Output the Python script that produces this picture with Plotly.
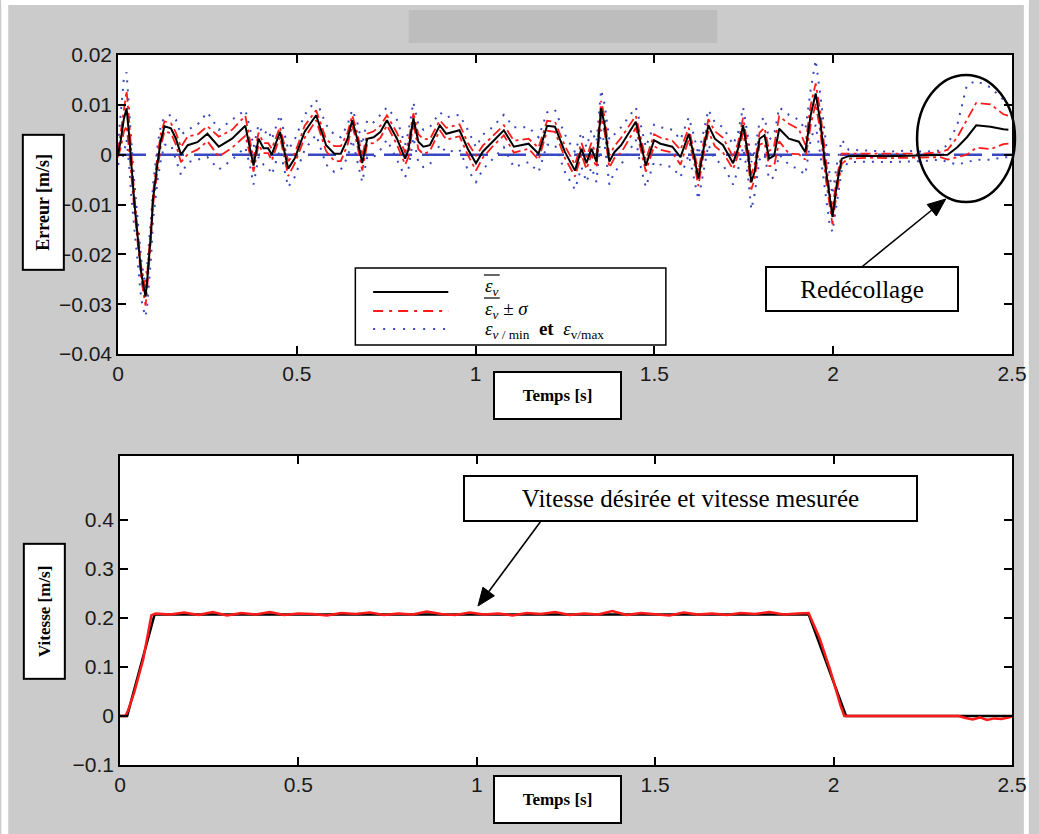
import plotly.graph_objects as go

# ---------------- data ----------------
err_t = [
    0.000, 0.008, 0.016, 0.024, 0.031, 0.038, 0.045, 0.052, 0.058, 0.065,
    0.071, 0.077, 0.082, 0.087, 0.093, 0.098, 0.104, 0.111, 0.120, 0.130,
    0.148, 0.162, 0.176, 0.195, 0.222, 0.250, 0.282, 0.319, 0.356, 0.370,
    0.379, 0.393, 0.407, 0.420, 0.430, 0.453, 0.476, 0.494, 0.522, 0.554,
    0.582, 0.605, 0.623, 0.642, 0.655, 0.669, 0.683, 0.697, 0.715, 0.734,
    0.752, 0.780, 0.803, 0.812, 0.826, 0.840, 0.854, 0.872, 0.900, 0.918,
    0.955, 0.978, 1.001, 1.020, 1.047, 1.079, 1.107, 1.148, 1.176, 1.200,
    1.222, 1.250, 1.278, 1.296, 1.310, 1.324, 1.338, 1.351, 1.361, 1.374,
    1.388, 1.407, 1.448, 1.462, 1.476, 1.499, 1.517, 1.550, 1.573, 1.596,
    1.610, 1.623, 1.637, 1.651, 1.669, 1.692, 1.720, 1.734, 1.748, 1.762,
    1.771, 1.780, 1.794, 1.808, 1.821, 1.835, 1.849, 1.876, 1.904, 1.922,
    1.937, 1.951, 1.964, 1.978, 1.990, 1.998, 2.010, 2.024, 2.043, 2.100,
    2.150, 2.200, 2.250, 2.300, 2.320, 2.347, 2.374, 2.400, 2.440, 2.476,
    2.490,
]
err_mean = [
    0.0000, 0.0030, 0.0070, 0.0093, 0.0040, -0.0035, -0.0090, -0.0143, -0.0190, -0.0237,
    -0.0262, -0.0285, -0.0250, -0.0210, -0.0150, -0.0089, -0.0050, -0.0014, 0.0030, 0.0057,
    0.0053, 0.0032, 0.0000, 0.0019, 0.0025, 0.0042, 0.0016, 0.0032, 0.0058, 0.0013,
    -0.0022, 0.0032, 0.0013, 0.0013, 0.0000, 0.0046, -0.0028, -0.0008, 0.0046, 0.0079,
    0.0019, 0.0002, 0.0002, 0.0032, 0.0069, 0.0032, -0.0017, 0.0032, 0.0035, 0.0046,
    0.0069, 0.0032, -0.0008, 0.0010, 0.0073, 0.0026, 0.0016, 0.0019, 0.0059, 0.0042,
    0.0049, 0.0012, -0.0017, 0.0006, 0.0026, 0.0049, 0.0016, 0.0022, 0.0002, 0.0058,
    0.0056, 0.0005, -0.0032, 0.0012, -0.0017, 0.0012, -0.0014, 0.0093, 0.0059, -0.0014,
    0.0005, 0.0019, 0.0066, 0.0019, -0.0022, 0.0029, 0.0022, 0.0016, -0.0005, 0.0042,
    0.0000, -0.0048, 0.0010, 0.0059, 0.0032, 0.0019, -0.0017, 0.0012, 0.0059, 0.0000,
    -0.0055, -0.0035, 0.0032, 0.0039, -0.0008, -0.0002, 0.0052, 0.0032, 0.0026, 0.0005,
    0.0079, 0.0123, 0.0066, -0.0022, -0.0090, -0.0125, -0.0060, -0.0008, -0.0003, -0.0002,
    -0.0003, -0.0002, -0.0002, 0.0000, 0.0000, 0.0015, 0.0035, 0.0059, 0.0056, 0.0051,
    0.0050,
]
err_sigma = [
    0.0005, 0.0015, 0.0025, 0.0035, 0.0030, 0.0020, 0.0015, 0.0012, 0.0012, 0.0012,
    0.0015, 0.0018, 0.0015, 0.0012, 0.0010, 0.0012, 0.0015, 0.0015, 0.0012, 0.0010,
    0.0010, 0.0012, 0.0015, 0.0018, 0.0015, 0.0015, 0.0020, 0.0018, 0.0020, 0.0015,
    0.0012, 0.0012, 0.0010, 0.0010, 0.0012, 0.0010, 0.0015, 0.0010, 0.0012, 0.0010,
    0.0012, 0.0015, 0.0015, 0.0012, 0.0010, 0.0012, 0.0015, 0.0010, 0.0012, 0.0012,
    0.0010, 0.0012, 0.0012, 0.0015, 0.0010, 0.0015, 0.0015, 0.0012, 0.0010, 0.0012,
    0.0012, 0.0012, 0.0015, 0.0012, 0.0010, 0.0010, 0.0012, 0.0010, 0.0012, 0.0010,
    0.0010, 0.0012, 0.0012, 0.0012, 0.0012, 0.0012, 0.0012, 0.0015, 0.0015, 0.0012,
    0.0012, 0.0015, 0.0012, 0.0012, 0.0012, 0.0012, 0.0012, 0.0012, 0.0015, 0.0012,
    0.0012, 0.0015, 0.0012, 0.0012, 0.0015, 0.0015, 0.0012, 0.0012, 0.0015, 0.0015,
    0.0015, 0.0015, 0.0012, 0.0015, 0.0015, 0.0020, 0.0025, 0.0030, 0.0025, 0.0015,
    0.0020, 0.0020, 0.0020, 0.0020, 0.0015, 0.0015, 0.0015, 0.0010, 0.0005, 0.0004,
    0.0004, 0.0004, 0.0004, 0.0005, 0.0010, 0.0020, 0.0035, 0.0045, 0.0045, 0.0030,
    0.0028,
]
err_max = [
    0.0020, 0.0080, 0.0150, 0.0165, 0.0100, 0.0020, -0.0050, -0.0110, -0.0160, -0.0210,
    -0.0240, -0.0260, -0.0220, -0.0180, -0.0120, -0.0060, -0.0020, 0.0020, 0.0060, 0.0075,
    0.0080, 0.0070, 0.0040, 0.0050, 0.0060, 0.0085, 0.0050, 0.0070, 0.0090, 0.0050,
    0.0015, 0.0060, 0.0040, 0.0050, 0.0030, 0.0080, 0.0010, 0.0030, 0.0080, 0.0110,
    0.0060, 0.0040, 0.0035, 0.0060, 0.0090, 0.0065, 0.0020, 0.0070, 0.0065, 0.0080,
    0.0095, 0.0070, 0.0020, 0.0045, 0.0105, 0.0060, 0.0050, 0.0055, 0.0085, 0.0075,
    0.0080, 0.0050, 0.0015, 0.0040, 0.0055, 0.0080, 0.0055, 0.0055, 0.0035, 0.0085,
    0.0090, 0.0040, 0.0005, 0.0045, 0.0015, 0.0050, 0.0025, 0.0130, 0.0100, 0.0030,
    0.0040, 0.0055, 0.0095, 0.0060, 0.0015, 0.0060, 0.0055, 0.0050, 0.0030, 0.0075,
    0.0040, 0.0000, 0.0045, 0.0090, 0.0065, 0.0055, 0.0020, 0.0045, 0.0095, 0.0035,
    -0.0015, 0.0005, 0.0065, 0.0075, 0.0030, 0.0040, 0.0095, 0.0080, 0.0070, 0.0050,
    0.0130, 0.0190, 0.0120, 0.0030, -0.0040, -0.0080, -0.0020, 0.0030, 0.0010, 0.0008,
    0.0006, 0.0008, 0.0006, 0.0008, 0.0020, 0.0060, 0.0140, 0.0148, 0.0135, 0.0110,
    0.0100,
]
err_min = [
    -0.0020, -0.0010, 0.0000, 0.0030, -0.0020, -0.0090, -0.0140, -0.0190, -0.0240, -0.0290,
    -0.0310, -0.0325, -0.0300, -0.0260, -0.0200, -0.0130, -0.0090, -0.0050, -0.0010, 0.0020,
    0.0020, -0.0010, -0.0040, -0.0015, -0.0010, -0.0005, -0.0030, -0.0010, 0.0015, -0.0025,
    -0.0060, -0.0005, -0.0020, -0.0025, -0.0040, 0.0010, -0.0065, -0.0045, 0.0010, 0.0040,
    -0.0020, -0.0035, -0.0030, -0.0005, 0.0030, -0.0010, -0.0055, -0.0005, -0.0005, 0.0010,
    0.0030, -0.0010, -0.0045, -0.0030, 0.0035, -0.0015, -0.0025, -0.0020, 0.0020, 0.0005,
    0.0010, -0.0030, -0.0055, -0.0030, -0.0010, 0.0015, -0.0025, -0.0015, -0.0035, 0.0020,
    0.0020, -0.0035, -0.0070, -0.0025, -0.0055, -0.0025, -0.0055, 0.0050, 0.0020, -0.0060,
    -0.0035, -0.0020, 0.0030, -0.0025, -0.0065, -0.0015, -0.0020, -0.0025, -0.0045, 0.0000,
    -0.0045, -0.0090, -0.0035, 0.0020, -0.0010, -0.0020, -0.0060, -0.0030, 0.0015, -0.0045,
    -0.0110, -0.0080, -0.0010, 0.0000, -0.0050, -0.0045, 0.0000, -0.0020, -0.0030, -0.0040,
    0.0030, 0.0060, 0.0000, -0.0080, -0.0140, -0.0155, -0.0100, -0.0030, -0.0015, -0.0014,
    -0.0015, -0.0014, -0.0013, -0.0010, -0.0015, -0.0020, -0.0015, -0.0010, -0.0010, -0.0005,
    -0.0005,
]
zero_t = [0.0, 2.5]
zero_v = [0.0, 0.0]

vel_des_t = [0.0, 0.02, 0.097, 1.93, 2.035, 2.5]
vel_des = [0.0, 0.0, 0.207, 0.207, 0.0, 0.0]

vel_mes_t = [
    0.000, 0.015, 0.022, 0.040, 0.065, 0.080, 0.088,
    0.10, 0.14, 0.18, 0.22, 0.26, 0.30, 0.34, 0.38, 0.42, 0.46,
    0.50, 0.54, 0.58, 0.62, 0.66, 0.70, 0.74, 0.78, 0.82, 0.86,
    0.90, 0.94, 0.98, 1.02, 1.06, 1.10, 1.14, 1.18, 1.22, 1.26,
    1.30, 1.34, 1.38, 1.42, 1.46, 1.50, 1.54, 1.58, 1.62, 1.66,
    1.70, 1.74, 1.78, 1.82, 1.86, 1.90,
    1.93, 1.96, 1.99, 2.02, 2.03,
    2.10, 2.20, 2.30, 2.35,
    2.37, 2.39, 2.41, 2.43, 2.45, 2.47, 2.49, 2.50,
]
vel_mes = [
    0.000, 0.000, 0.010, 0.048, 0.115, 0.170, 0.205,
    0.209, 0.207, 0.211, 0.206, 0.212, 0.205, 0.210, 0.207, 0.212, 0.206,
    0.209, 0.208, 0.205, 0.210, 0.208, 0.211, 0.206, 0.209, 0.207, 0.213,
    0.208, 0.206, 0.211, 0.207, 0.209, 0.205, 0.210, 0.208, 0.212, 0.206,
    0.209, 0.207, 0.214, 0.206, 0.210, 0.208, 0.205, 0.211, 0.207, 0.209,
    0.206, 0.210, 0.208, 0.212, 0.207, 0.209,
    0.210, 0.160, 0.095, 0.020, 0.000,
    0.000, 0.000, 0.000, 0.000,
    -0.004, -0.007, -0.003, -0.008, -0.005, -0.006, -0.003, -0.001,
]

x_ticks = [0, 0.5, 1, 1.5, 2, 2.5]
x_ticktext = ["0", "0.5", "1", "1.5", "2", "2.5"]
err_ticks = [-0.04, -0.03, -0.02, -0.01, 0, 0.01, 0.02]
err_ticktext = ["\u22120.04", "\u22120.03", "\u22120.02", "\u22120.01", "0", "0.01", "0.02"]
vel_ticks = [-0.1, 0, 0.1, 0.2, 0.3, 0.4]
vel_ticktext = ["\u22120.1", "0", "0.1", "0.2", "0.3", "0.4"]

# ---------------- layout geometry ----------------
W, H = 1039, 834
ML, MR, MT, MB = 118, 17, 55, 69
PW = W - ML - MR
PH = H - MT - MB


def fx(px):
    return (px - ML) / PW


def fy(py):
    return (H - MB - py) / PH


err_upper = [m + s for m, s in zip(err_mean, err_sigma)]
err_lower = [m - s for m, s in zip(err_mean, err_sigma)]

BLUE = "#3848c0"
RED = "#ff1a1a"

fig = go.Figure()
# top panel
fig.add_trace(go.Scatter(x=zero_t, y=zero_v, mode="lines", xaxis="x", yaxis="y",
                         line=dict(color=BLUE, width=2.5, dash="28px,10px")))
fig.add_trace(go.Scatter(x=err_t, y=err_max, mode="lines", xaxis="x", yaxis="y",
                         line=dict(color=BLUE, width=2, dash="2px,7px")))
fig.add_trace(go.Scatter(x=err_t, y=err_min, mode="lines", xaxis="x", yaxis="y",
                         line=dict(color=BLUE, width=2, dash="2px,7px")))
fig.add_trace(go.Scatter(x=err_t, y=err_upper, mode="lines", xaxis="x", yaxis="y",
                         line=dict(color=RED, width=1.8, dash="10px,4px,3px,4px")))
fig.add_trace(go.Scatter(x=err_t, y=err_lower, mode="lines", xaxis="x", yaxis="y",
                         line=dict(color=RED, width=1.8, dash="10px,4px,3px,4px")))
fig.add_trace(go.Scatter(x=err_t, y=err_mean, mode="lines", xaxis="x", yaxis="y",
                         line=dict(color="black", width=2)))
# bottom panel
fig.add_trace(go.Scatter(x=vel_des_t, y=vel_des, mode="lines", xaxis="x2", yaxis="y2",
                         line=dict(color="black", width=2.5)))
fig.add_trace(go.Scatter(x=vel_mes_t, y=vel_mes, mode="lines", xaxis="x2", yaxis="y2",
                         line=dict(color=RED, width=2.5)))

tickfont = dict(family="Liberation Sans, Arial, sans-serif", size=21, color="#1a1a1a")
axis_common = dict(showline=True, linecolor="black", linewidth=1.5, mirror="ticks",
                   ticks="inside", ticklen=8, tickwidth=1.5, tickcolor="black",
                   showgrid=False, zeroline=False, tickfont=tickfont, fixedrange=True)

fig.update_layout(
    width=W, height=H, autosize=False,
    margin=dict(l=ML, r=MR, t=MT, b=MB, pad=0),
    paper_bgcolor="#cbcbcb", plot_bgcolor="white",
    showlegend=False,
    xaxis=dict(domain=[0, 1], anchor="y", range=[0, 2.5], tickvals=x_ticks,
               ticktext=x_ticktext, **axis_common),
    yaxis=dict(domain=[fy(354), 1], anchor="x", range=[-0.04, 0.02], tickvals=err_ticks,
               ticktext=err_ticktext, **axis_common),
    xaxis2=dict(domain=[fx(120), 1], anchor="y2", range=[0, 2.5], tickvals=x_ticks,
                ticktext=x_ticktext, **axis_common),
    yaxis2=dict(domain=[0, fy(456)], anchor="x2", range=[-0.1, 0.53], tickvals=vel_ticks,
                ticktext=vel_ticktext, **axis_common),
)


def P(px, py):
    return "%.5f %.5f" % (fx(px), fy(py))


shapes = []
# white border strips and grey title placeholder
shapes.append(dict(type="rect", xref="paper", yref="paper", x0=fx(0), x1=fx(7), y0=fy(H), y1=fy(0),
                   fillcolor="white", line=dict(width=0), layer="below"))
shapes.append(dict(type="rect", xref="paper", yref="paper", x0=fx(0), x1=fx(W), y0=fy(5), y1=fy(0),
                   fillcolor="white", line=dict(width=0), layer="below"))
shapes.append(dict(type="rect", xref="paper", yref="paper", x0=fx(1034), x1=fx(W), y0=fy(H), y1=fy(0),
                   fillcolor="white", line=dict(width=0), layer="below"))
shapes.append(dict(type="rect", xref="paper", yref="paper", x0=fx(412), x1=fx(724), y0=fy(43), y1=fy(10),
                   fillcolor="#bdbdbd", line=dict(width=0), layer="above"))
# legend box
shapes.append(dict(type="rect", xref="paper", yref="paper", x0=fx(358), x1=fx(672), y0=fy(345), y1=fy(268),
                   fillcolor="white", line=dict(color="black", width=1.5), layer="above"))
shapes.append(dict(type="line", xref="paper", yref="paper", x0=fx(376), x1=fx(452), y0=fy(292), y1=fy(292),
                   line=dict(color="black", width=2)))
shapes.append(dict(type="line", xref="paper", yref="paper", x0=fx(376), x1=fx(452), y0=fy(311), y1=fy(311),
                   line=dict(color=RED, width=2, dash="10px,6px,3px,6px")))
shapes.append(dict(type="line", xref="paper", yref="paper", x0=fx(376), x1=fx(452), y0=fy(329), y1=fy(329),
                   line=dict(color=BLUE, width=2, dash="2px,8px")))
shapes.append(dict(type="line", xref="paper", yref="paper", x0=fx(488), x1=fx(504), y0=fy(275), y1=fy(275),
                   line=dict(color="black", width=1.2)))
shapes.append(dict(type="line", xref="paper", yref="paper", x0=fx(488), x1=fx(504), y0=fy(298), y1=fy(298),
                   line=dict(color="black", width=1.2)))
# ellipse
shapes.append(dict(type="circle", xref="paper", yref="paper", x0=fx(926), x1=fx(1025), y0=fy(202), y1=fy(75),
                   line=dict(color="black", width=2.5)))
# arrows (line + filled head)
shapes.append(dict(type="line", xref="paper", yref="paper", x0=fx(870), y0=fy(267), x1=fx(941), y1=fy(210),
                   line=dict(color="black", width=1.6)))
shapes.append(dict(type="path", xref="paper", yref="paper",
                   path="M %s L %s L %s Z" % (P(955, 199), P(945.5, 216.0), P(936.2, 204.5)),
                   fillcolor="black", line=dict(color="black", width=1)))
shapes.append(dict(type="line", xref="paper", yref="paper", x0=fx(545), y0=fy(522), x1=fx(493), y1=fy(591.5),
                   line=dict(color="black", width=1.6)))
shapes.append(dict(type="path", xref="paper", yref="paper",
                   path="M %s L %s L %s Z" % (P(482, 606), P(498.6, 595.8), P(487.0, 587.2)),
                   fillcolor="black", line=dict(color="black", width=1)))
fig.update_layout(shapes=shapes)

serif = "Liberation Serif, Times New Roman, serif"
ann = []


def box(cx, cy, w, h, text, size, angle=0, bold=True):
    ann.append(dict(xref="paper", yref="paper", x=fx(cx), y=fy(cy), xanchor="center", yanchor="middle",
                    text=("<b>%s</b>" % text) if bold else text, textangle=angle, showarrow=False,
                    bgcolor="white", bordercolor="black", borderwidth=2, borderpad=0,
                    width=w, height=h, font=dict(family=serif, size=size, color="black")))


box(43, 202, 133, 39, "Erreur [m/s]", 18, angle=-90)
box(43, 611, 133, 39, "Vitesse [m/s]", 17, angle=-90)
box(562, 395, 125, 45, "Temps [s]", 17)
box(562, 799, 125, 45, "Temps [s]", 17)
box(870, 289, 190, 42, "Redécollage", 25, bold=False)
box(697, 498, 451, 43, "Vitesse désirée et vitesse mesurée", 25, bold=False)

# legend texts
leg_font = dict(family=serif, size=19, color="black")
ann.append(dict(xref="paper", yref="paper", x=fx(487), y=fy(287), xanchor="left", yanchor="middle",
                showarrow=False, text="<i>ε</i><sub><i>ν</i></sub>", font=leg_font))
ann.append(dict(xref="paper", yref="paper", x=fx(487), y=fy(310), xanchor="left", yanchor="middle",
                showarrow=False, text="<i>ε</i><sub><i>ν</i></sub> ± <i>σ</i>", font=leg_font))
ann.append(dict(xref="paper", yref="paper", x=fx(487), y=fy(330), xanchor="left", yanchor="middle",
                showarrow=False,
                text="<i>ε</i><sub><i>ν</i> / min</sub>  <b>et</b>  <i>ε</i><sub>v/max</sub>",
                font=leg_font))
fig.update_layout(annotations=ann)

fig.write_html("out.html", config={"displayModeBar": False},
               post_script="document.body.style.margin='0';document.body.style.overflow='hidden';")
